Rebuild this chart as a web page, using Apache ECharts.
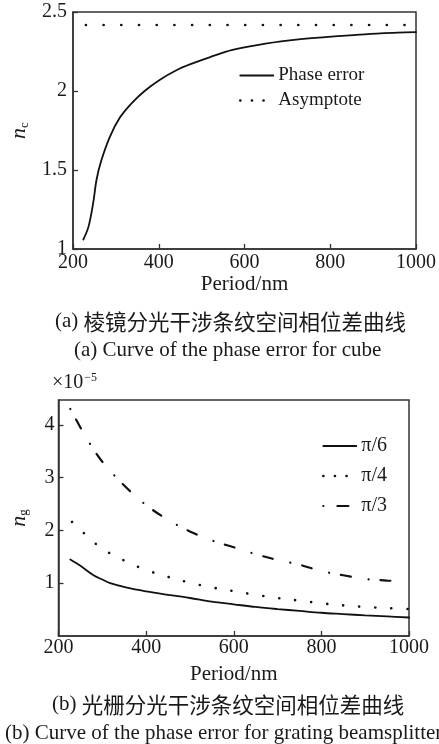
<!DOCTYPE html>
<html><head><meta charset="utf-8">
<script src="https://cdn.jsdelivr.net/npm/echarts@6/dist/echarts.min.js"></script>
<style>html,body{margin:0;padding:0;background:#fff}#c{width:439px;height:744px}</style>
</head><body><div id="c"></div>
<script>
// ---- data ----
const xTicks = [200, 400, 600, 800, 1000];
const cubePeriod = [224,236,247,255,266,286,309,336,367,402,440,479,520,572,649,726,804,881,958,1000];
const cubePhase  = [1.06,1.14,1.29,1.44,1.56,1.71,1.83,1.92,2.00,2.07,2.13,2.175,2.215,2.26,2.30,2.327,2.344,2.359,2.369,2.373];
const asymPeriod = [230, 1000];
const asymValue  = [2.418, 2.418];
const p6Period = [227,250,280,300,318,356,400,450,500,550,600,650,700,750,800,850,900,950,1000];
const p6Value  = [1.45,1.33,1.15,1.07,1.00,0.915,0.845,0.78,0.72,0.65,0.60,0.55,0.51,0.475,0.44,0.415,0.39,0.37,0.35];
const p4Period = [231,250,275,300,350,400,450,500,550,600,650,700,750,800,850,900,950,1000];
const p4Value  = [2.16,2.01,1.82,1.65,1.43,1.25,1.12,1.01,0.92,0.85,0.78,0.72,0.67,0.62,0.58,0.55,0.53,0.51];
const p3Period = [227,250,275,300,350,400,450,500,550,600,650,700,750,800,850,900,950,975];
const p3Value  = [4.30,3.95,3.60,3.30,2.85,2.48,2.20,1.98,1.81,1.68,1.55,1.44,1.35,1.23,1.15,1.08,1.05,1.04];

const zip = (a, b) => a.map((v, i) => [v, b[i]]);
const SERIF = '"Liberation Serif","DejaVu Serif",serif';
const CJK = '"Noto Sans CJK SC",sans-serif';
const INK = '#1a1a1a';

function xAx(grid, margin, gap) {
  return {
    type: 'value', gridIndex: grid, min: xTicks[0], max: xTicks[xTicks.length - 1], interval: 200,
    name: 'Period/nm', nameLocation: 'middle', nameGap: gap,
    nameTextStyle: {fontFamily: SERIF, fontSize: 21, color: INK},
    axisLine: {show: true, lineStyle: {color: '#333', width: 1.5}},
    axisTick: {show: true, inside: true, length: 5, lineStyle: {color: '#333', width: 1.3}},
    axisLabel: {fontFamily: SERIF, fontSize: 20, color: INK, margin: margin, formatter: v => String(v)},
    splitLine: {show: false}
  };
}
function yAx(grid, min, max, interval, sub, gap, margin, hideEnds) {
  return {
    type: 'value', gridIndex: grid, min: min, max: max, interval: interval,
    name: '{i|n}{s|' + sub + '}', nameLocation: 'middle', nameGap: gap, nameRotate: 90,
    nameTextStyle: {rich: {
      i: {fontFamily: SERIF, fontStyle: 'italic', fontSize: 22, color: INK},
      s: {fontFamily: SERIF, fontSize: 13, color: INK, verticalAlign: 'bottom', padding: [10, 0, 0, 0]}
    }},
    axisLine: {show: true, lineStyle: {color: '#333', width: 1.5}},
    axisTick: {show: true, inside: true, length: 5, lineStyle: {color: '#333', width: 1.3}},
    axisLabel: {fontFamily: SERIF, fontSize: 20, color: INK, margin: margin,
      showMinLabel: !hideEnds, showMaxLabel: hideEnds ? false : true, formatter: v => String(v)},
    splitLine: {show: false}
  };
}
function lineSeries(name, xi, data, type, width, smooth) {
  return {
    name: name, type: 'line', xAxisIndex: xi, yAxisIndex: xi, data: data,
    symbol: 'none', smooth: smooth, silent: true, animation: false,
    lineStyle: {color: '#111', width: width, type: type, cap: 'round'},
    itemStyle: {color: '#111'}
  };
}
function legItem(name, type, width) {
  return {name: name, lineStyle: {color: '#111', width: width, type: type, cap: 'round'}};
}

const chart = echarts.init(document.getElementById('c'), null, {renderer: 'canvas'});
chart.setOption({
  backgroundColor: '#fff',
  animation: false,
  grid: [
    {left: 73, top: 12, width: 345, height: 237, show: true, borderColor: '#333', borderWidth: 1.5, backgroundColor: 'transparent'},
    {left: 58, top: 400, width: 351, height: 236, show: true, borderColor: '#333', borderWidth: 1.5, backgroundColor: 'transparent'}
  ],
  xAxis: [xAx(0, 4, 25), xAx(1, 2, 28)],
  yAxis: [yAx(0, 1, 2.5, 0.5, 'c', 38, 6, false), yAx(1, 0, 4.47, 1, 'g', 28, 4, true)],
  legend: [
    {data: [legItem('Phase error', 'solid', 1.8), legItem('Asymptote', [0.1, 11.5], 2.6)],
     orient: 'vertical', left: 234, top: 61,
     itemWidth: 33, itemHeight: 14, itemGap: 6, selectedMode: false,
     itemStyle: {opacity: 0},
     textStyle: {fontFamily: SERIF, fontSize: 19, color: INK, padding: [0, 0, 0, 0]}},
    {data: [legItem('π/6', 'solid', 1.8), legItem('π/4', [0.1, 11.5], 2.6), legItem('π/3', [0.1, 14, 11, 20], 2.2)],
     orient: 'vertical', left: 317, top: 431,
     itemWidth: 33, itemHeight: 14, itemGap: 10, selectedMode: false,
     itemStyle: {opacity: 0},
     textStyle: {fontFamily: SERIF, fontSize: 20, color: INK, padding: [0, 0, 0, 0]}}
  ],
  series: [
    lineSeries('Phase error', 0, zip(cubePeriod, cubePhase), 'solid', 1.8, 0.35),
    lineSeries('Asymptote', 0, zip(asymPeriod, asymValue), [0.1, 17.6], 2.6, false),
    lineSeries('π/6', 1, zip(p6Period, p6Value), 'solid', 1.8, 0.35),
    lineSeries('π/4', 1, zip(p4Period, p4Value), [0.1, 16], 2.6, 0.35),
    lineSeries('π/3', 1, zip(p3Period, p3Value), [0.1, 12, 10, 17.9], 2.2, 0.35)
  ],
  graphic: [
    {type: 'text', left: 55, top: 311, style: {
      text: '{t|(a) }{c|棱镜分光干涉条纹空间相位差曲线}',
      rich: {t: {fontFamily: SERIF, fontSize: 21, fill: INK}, c: {fontFamily: CJK, fontSize: 21.5, fill: INK}}}},
    {type: 'text', left: 74, top: 340, style: {
      text: '(a) Curve of the phase error for cube', font: '21px ' + SERIF, fill: INK}},
    {type: 'text', left: 52, top: 372, style: {
      text: '{t|×10}{s|−5}',
      rich: {t: {fontFamily: SERIF, fontSize: 20, fill: INK}, s: {fontFamily: SERIF, fontSize: 12, fill: INK, verticalAlign: 'top', padding: [0, 0, 10, 1]}}}},
    {type: 'text', left: 52, top: 694, style: {
      text: '{t|(b) }{c|光栅分光干涉条纹空间相位差曲线}',
      rich: {t: {fontFamily: SERIF, fontSize: 21, fill: INK}, c: {fontFamily: CJK, fontSize: 21.5, fill: INK}}}},
    {type: 'text', left: 5, top: 723, style: {
      text: '(b) Curve of the phase error for grating beamsplitter', font: '21px ' + SERIF, fill: INK}}
  ]
});
</script></body></html>
